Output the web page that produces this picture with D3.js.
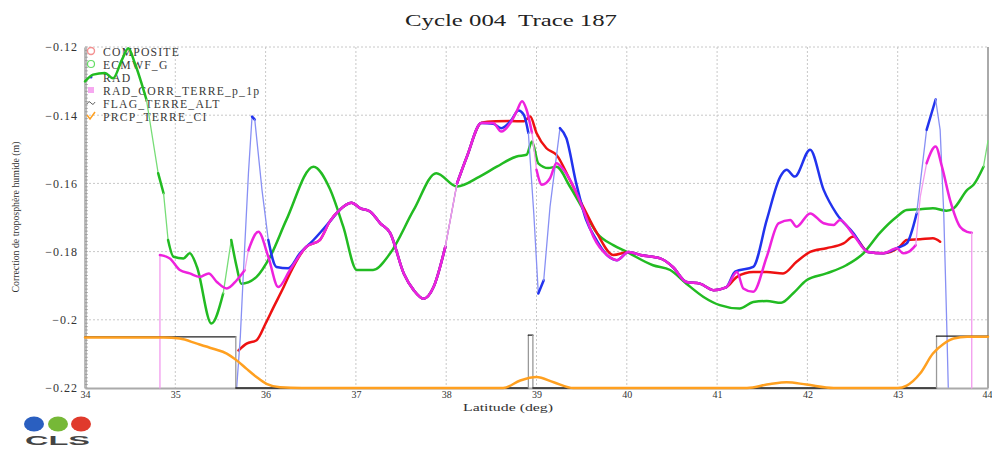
<!DOCTYPE html>
<html>
<meta charset=utf-8>
<title>Cycle 004 Trace 187</title>
<style>
  body { margin: 0; background: #fff; }
  svg text { font-family: "Liberation Serif", "DejaVu Serif", serif; }
  svg text.logo { font-family: "Liberation Sans", Arial, sans-serif; }
</style>
<svg id=chart width=992 height=450></svg>
<script src="https://cdn.jsdelivr.net/npm/d3@7"></script>
<script>
// latitude (deg) / correction (m) pairs
var composite = [[35.70,-0.209],[35.79,-0.207],[35.90,-0.206],[36.0,-0.2011],[36.09,-0.1962],[36.20,-0.1904],[36.27,-0.1864],[36.45,-0.1786],[36.60,-0.1766],[36.71,-0.1712],[36.82,-0.1678],[36.95,-0.1657],[37.05,-0.1673],[37.16,-0.1683],[37.27,-0.1717],[37.38,-0.1746],[37.53,-0.1864],[37.64,-0.1913],[37.75,-0.1938],[37.86,-0.1904],[37.99,-0.1786],[38.12,-0.16],[38.23,-0.1521],[38.39,-0.1422],[38.55,-0.1418],[38.71,-0.1417],[38.86,-0.1418],[38.93,-0.1404],[39.0,-0.1452],[39.11,-0.1497],[39.22,-0.1516],[39.37,-0.159],[39.52,-0.167],[39.67,-0.1746],[39.85,-0.181],[40.02,-0.1801],[40.15,-0.181],[40.37,-0.182],[40.51,-0.1845],[40.66,-0.1889],[40.81,-0.1894],[40.96,-0.1913],[41.10,-0.1905],[41.22,-0.1874],[41.40,-0.186],[41.55,-0.186],[41.73,-0.1864],[41.88,-0.183],[42.03,-0.1801],[42.21,-0.179],[42.40,-0.1776],[42.51,-0.1756],[42.67,-0.1801],[42.84,-0.1805],[43.02,-0.1786],[43.10,-0.1766],[43.25,-0.1764],[43.39,-0.1761],[43.47,-0.1771]];

var ecmwf = [[34.0,-0.1301],[34.09,-0.1281],[34.22,-0.1276],[34.31,-0.1292],[34.41,-0.1237],[34.48,-0.1204],[34.55,-0.1246],[34.68,-0.1354],[34.81,-0.157],[34.87,-0.1629],[34.92,-0.1766],[34.98,-0.1815],[35.09,-0.182],[35.16,-0.1805],[35.24,-0.1845],[35.40,-0.2011],[35.53,-0.1923],[35.62,-0.1766],[35.68,-0.1845],[35.73,-0.1894],[35.90,-0.1874],[36.05,-0.1815],[36.23,-0.1707],[36.53,-0.1551],[36.71,-0.1615],[36.86,-0.1727],[37.01,-0.1854],[37.19,-0.1854],[37.38,-0.1805],[37.64,-0.1678],[37.89,-0.157],[38.12,-0.1609],[38.37,-0.158],[38.56,-0.1551],[38.78,-0.1521],[38.89,-0.1516],[38.95,-0.1477],[39.02,-0.1541],[39.13,-0.1555],[39.22,-0.1551],[39.37,-0.1609],[39.52,-0.1678],[39.67,-0.1746],[39.85,-0.1781],[40.0,-0.1801],[40.29,-0.184],[40.48,-0.1854],[40.66,-0.1894],[40.85,-0.1933],[41.03,-0.1957],[41.25,-0.1967],[41.40,-0.1948],[41.55,-0.1945],[41.71,-0.195],[41.84,-0.1923],[41.99,-0.1884],[42.21,-0.1864],[42.43,-0.184],[42.62,-0.1805],[42.80,-0.1746],[42.99,-0.1698],[43.10,-0.1678],[43.25,-0.1676],[43.39,-0.1673],[43.54,-0.168],[43.62,-0.1673],[43.77,-0.1619],[43.84,-0.1604],[43.95,-0.1551],[44.0,-0.1475]];

var rad = [[35.68,-0.2198],[35.72,-0.205],[35.75,-0.1884],[35.81,-0.157],[35.85,-0.1404],[35.88,-0.1413],[35.96,-0.1619],[36.03,-0.1766],[36.12,-0.1845],[36.25,-0.1849],[36.38,-0.1805],[36.53,-0.1766],[36.71,-0.1712],[36.82,-0.1678],[36.95,-0.1657],[37.05,-0.1673],[37.16,-0.1683],[37.27,-0.1717],[37.38,-0.1746],[37.53,-0.1864],[37.64,-0.1913],[37.75,-0.1938],[37.86,-0.1904],[37.99,-0.1786],[38.12,-0.16],[38.23,-0.1521],[38.39,-0.1423],[38.52,-0.1425],[38.61,-0.1438],[38.72,-0.1415],[38.80,-0.1386],[38.86,-0.1399],[38.91,-0.1452],[38.97,-0.1688],[39.02,-0.1923],[39.08,-0.1884],[39.15,-0.1668],[39.26,-0.1438],[39.33,-0.1467],[39.44,-0.16],[39.55,-0.1707],[39.65,-0.176],[39.78,-0.181],[39.89,-0.1825],[40.02,-0.1801],[40.15,-0.181],[40.37,-0.182],[40.51,-0.1845],[40.66,-0.1889],[40.81,-0.1894],[40.96,-0.1913],[41.10,-0.1905],[41.20,-0.1859],[41.40,-0.1845],[41.55,-0.1707],[41.70,-0.158],[41.77,-0.156],[41.86,-0.158],[42.03,-0.1501],[42.18,-0.1619],[42.32,-0.1688],[42.51,-0.1746],[42.67,-0.1801],[42.84,-0.1805],[42.99,-0.179],[43.10,-0.1776],[43.21,-0.1688],[43.32,-0.1443],[43.42,-0.1354],[43.47,-0.1443],[43.51,-0.1688],[43.54,-0.1982],[43.56,-0.2198]];

var radCorr = [[34.83,-0.22],[34.83,-0.181],[34.94,-0.182],[35.05,-0.1854],[35.16,-0.1864],[35.27,-0.1874],[35.37,-0.1864],[35.46,-0.1889],[35.57,-0.1908],[35.68,-0.1884],[35.77,-0.1854],[35.81,-0.1796],[35.92,-0.1742],[36.03,-0.1815],[36.14,-0.1904],[36.27,-0.1854],[36.45,-0.1786],[36.60,-0.1766],[36.71,-0.1712],[36.82,-0.1678],[36.95,-0.1657],[37.05,-0.1673],[37.16,-0.1683],[37.27,-0.1717],[37.38,-0.1746],[37.53,-0.1864],[37.64,-0.1913],[37.75,-0.1938],[37.86,-0.1904],[37.99,-0.1786],[38.12,-0.16],[38.23,-0.1521],[38.39,-0.1423],[38.52,-0.1423],[38.61,-0.1448],[38.71,-0.1423],[38.78,-0.1389],[38.84,-0.1359],[38.89,-0.1384],[38.95,-0.1452],[39.00,-0.156],[39.06,-0.1604],[39.15,-0.1585],[39.22,-0.1541],[39.30,-0.156],[39.41,-0.1609],[39.52,-0.1678],[39.63,-0.1756],[39.78,-0.181],[39.89,-0.1825],[40.02,-0.1801],[40.15,-0.181],[40.37,-0.182],[40.51,-0.1845],[40.66,-0.1889],[40.81,-0.1894],[40.96,-0.1913],[41.10,-0.1905],[41.22,-0.186],[41.29,-0.1908],[41.40,-0.1918],[41.55,-0.1815],[41.68,-0.1717],[41.81,-0.1707],[41.88,-0.1727],[42.03,-0.1688],[42.18,-0.1717],[42.29,-0.1722],[42.36,-0.1707],[42.51,-0.1751],[42.67,-0.1801],[42.84,-0.1805],[42.99,-0.179],[43.06,-0.1805],[43.12,-0.1801],[43.20,-0.1781],[43.25,-0.1639],[43.32,-0.1541],[43.42,-0.1492],[43.49,-0.1551],[43.58,-0.1649],[43.69,-0.1727],[43.77,-0.1742],[43.82,-0.1745],[43.82,-0.22]];

var flagTerre = [[34.0,-0.205],[35.67,-0.205],[35.67,-0.22],[38.91,-0.22],[38.91,-0.2045],[38.96,-0.2045],[38.96,-0.22],[43.43,-0.22],[43.43,-0.2048],[44.0,-0.2048]];

var prcpTerre = [[34.0,-0.2052],[34.87,-0.2052],[35.05,-0.2055],[35.24,-0.207],[35.42,-0.2085],[35.57,-0.2099],[35.68,-0.2119],[35.79,-0.2144],[35.90,-0.2168],[36.01,-0.2188],[36.16,-0.2198],[36.4,-0.22],[38.63,-0.22],[38.82,-0.2178],[39.0,-0.2168],[39.19,-0.2183],[39.41,-0.22],[41.33,-0.22],[41.59,-0.2188],[41.77,-0.2183],[41.99,-0.219],[42.29,-0.22],[43.0,-0.22],[43.10,-0.2193],[43.25,-0.2157],[43.39,-0.2099],[43.51,-0.207],[43.62,-0.2055],[43.77,-0.205],[44.0,-0.205]];

var latTicks = [34, 35, 36, 37, 38, 39, 40, 41, 42, 43, 44];
var valTicks = [-0.22, -0.2, -0.18, -0.16, -0.14, -0.12];

var series = [
  {name: "COMPOSITE", data: composite, color: "#ee1111", thin: "#f07070", mark: "circle"},
  {name: "ECMWF_G", data: ecmwf, color: "#22bb22", thin: "#77dd77", mark: "ring"},
  {name: "RAD", data: rad, color: "#2233ee", thin: "#8890f4", mark: "dot"},
  {name: "RAD_CORR_TERRE_p_1p", data: radCorr, color: "#ee22dd", thin: "#f29aee", mark: "square"},
  {name: "FLAG_TERRE_ALT", data: flagTerre, color: "#222222", thin: "#999999", mark: "wave"},
  {name: "PRCP_TERRE_CI", data: prcpTerre, color: "#ffa020", thin: "#ffc070", mark: "check"}
];
// ordre de tracé : vert dessous, drapeau et orange dessus
var drawOrder = [1, 0, 2, 3, 4, 5];

var svg = d3.select("#chart");
var x = d3.scaleLinear().domain([34, 44]).range([85, 988]);
var y = d3.scaleLinear().domain([-0.22, -0.12]).range([388, 47]);

// titre
svg.append("text").attr("x", 511).attr("y", 26).attr("text-anchor", "middle")
  .attr("font-size", 16).attr("fill", "#222").style("white-space", "pre")
  .attr("textLength", 212).attr("lengthAdjust", "spacingAndGlyphs")
  .text("Cycle 004  Trace 187");

// grille
var grid = svg.append("g");
grid.selectAll(".gx").data(latTicks.slice(1, -1)).enter().append("line")
  .attr("x1", d => x(d)).attr("x2", d => x(d)).attr("y1", y(-0.12)).attr("y2", y(-0.22))
  .attr("stroke", "#c8c8c8").attr("stroke-dasharray", "2,2");
grid.selectAll(".gy").data(valTicks.slice(1)).enter().append("line")
  .attr("x1", x(34)).attr("x2", x(44)).attr("y1", d => y(d)).attr("y2", d => y(d))
  .attr("stroke", "#c8c8c8").attr("stroke-dasharray", "2,2");

// axes
var yAxis = d3.axisLeft(y).tickValues(valTicks).tickSize(0).tickPadding(7)
  .tickFormat(d => String(+d.toFixed(2)).replace("-", "\u2212"));
var gy = svg.append("g").attr("transform", "translate(" + x(34) + ",0)").call(yAxis);
gy.select(".domain").attr("stroke", "#bbb").attr("stroke-width", 3);
gy.selectAll("text").attr("font-size", 12).attr("fill", "#333").attr("letter-spacing", 1);
// petites graduations
gy.selectAll(".minor").data(d3.range(0, 101)).enter().append("line")
  .attr("x1", 0).attr("x2", 3).attr("y1", i => y(-0.22 + i * 0.001)).attr("y2", i => y(-0.22 + i * 0.001))
  .attr("stroke", "#888").attr("stroke-width", 0.6);

var xAxis = d3.axisBottom(x).tickValues(latTicks).tickSize(0).tickPadding(3);
var gx = svg.append("g").attr("transform", "translate(0," + y(-0.22) + ")").call(xAxis);
gx.select(".domain").attr("stroke", "#aaa").attr("stroke-width", 2);
gx.selectAll("text").attr("font-size", 10).attr("fill", "#333");
gx.selectAll(".tick").filter(d => d == 44).select("text").attr("text-anchor", "end").attr("dx", 4);

svg.append("line").attr("x1", x(44)).attr("x2", x(44)).attr("y1", y(-0.12)).attr("y2", y(-0.22))
  .attr("stroke", "#aaa").attr("stroke-width", 2);

svg.append("text").attr("x", 508).attr("y", 411).attr("text-anchor", "middle")
  .attr("font-size", 11).attr("fill", "#333")
  .attr("textLength", 90).attr("lengthAdjust", "spacingAndGlyphs").text("Latitude (deg)");
svg.append("text").attr("transform", "translate(19,217) rotate(-90)").attr("text-anchor", "middle")
  .attr("font-size", 10).attr("fill", "#333")
  .attr("textLength", 151).attr("lengthAdjust", "spacingAndGlyphs")
  .text("Correction de troposphère humide (m)");

// légende (sous les courbes)
var leg = svg.append("g").attr("transform", "translate(91,51)");
series.forEach(function (s, i) {
  var g = leg.append("g").attr("transform", "translate(0," + i * 13 + ")");
  if (s.mark == "circle")
    g.append("circle").attr("r", 3.5).attr("fill", "none").attr("stroke", "#f49090").attr("stroke-width", 1.4);
  else if (s.mark == "ring")
    g.append("circle").attr("r", 3.5).attr("fill", "none").attr("stroke", "#66dd66").attr("stroke-width", 1.2);
  else if (s.mark == "dot")
    g.append("circle").attr("r", 1.5).attr("fill", s.color);
  else if (s.mark == "square")
    g.append("rect").attr("x", -3).attr("y", -3).attr("width", 6).attr("height", 6).attr("fill", "#f6a8f0");
  else if (s.mark == "wave")
    g.append("path").attr("d", "M-4,1 Q-2,-3 0,0 T4,-1").attr("fill", "none").attr("stroke", "#666");
  else
    g.append("path").attr("d", "M-4,-1 L-1,3 L4,-4").attr("fill", "none").attr("stroke", s.color).attr("stroke-width", 1.5);
  g.append("text").attr("x", 12).attr("y", 4.5).attr("font-size", 11.7).attr("letter-spacing", 1.2)
    .attr("fill", "#3a3a3a").text(s.name);
});

// courbes : morceaux fins là où la pente est forte (points de mesure espacés)
var smooth = d3.line().curve(d3.curveMonotoneX);
var straight = d3.line();
var gl = svg.append("g").attr("fill", "none").attr("stroke-linecap", "round").attr("stroke-linejoin", "round");
drawOrder.forEach(function (k) {
  var s = series[k];
  var pts = s.data.map(d => [x(d[0]), y(d[1])]);
  var flag = s.name == "FLAG_TERRE_ALT";
  var runs = [];
  d3.pairs(pts).forEach(function (p) {
    var dx = Math.abs(p[1][0] - p[0][0]), dy = Math.abs(p[1][1] - p[0][1]);
    var steep = flag ? dy > dx : (dx == 0 || dy > 5 * dx);
    var last = runs[runs.length - 1];
    if (last && last.steep == steep) last.pts.push(p[1]);
    else runs.push({steep: steep, pts: [p[0], p[1]]});
  });
  gl.append("g").selectAll("path").data(runs).enter().append("path")
    .attr("d", r => (r.steep || flag) ? straight(r.pts) : smooth(r.pts))
    .attr("stroke", r => r.steep ? s.thin : s.color)
    .attr("stroke-width", r => flag ? 1.3 : (r.steep ? 1.3 : 2.5));
});

// logo CLS
var logo = svg.append("g");
[["#2a5fc0", 34], ["#76b837", 58], ["#e03a2c", 81]].forEach(function (c) {
  logo.append("ellipse").attr("cx", c[1]).attr("cy", 424).attr("rx", 10).attr("ry", 7.5).attr("fill", c[0]);
});
logo.append("text").attr("class", "logo").attr("x", 25).attr("y", 445)
  .attr("font-weight", "bold").attr("font-size", 13)
  .attr("textLength", 65).attr("lengthAdjust", "spacingAndGlyphs").attr("fill", "#444").text("CLS");
</script>
